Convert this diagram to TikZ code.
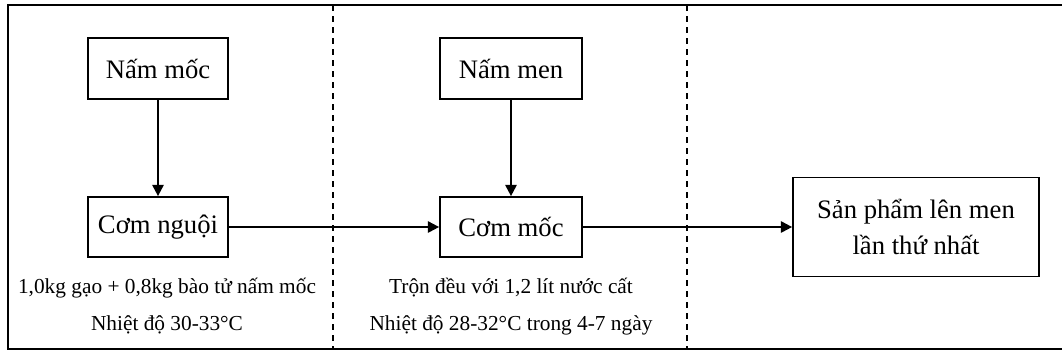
\documentclass[tikz,border=0pt]{standalone}
\usepackage{fontspec}
\setmainfont{Liberation Serif}
\usetikzlibrary{arrows.meta}
\begin{document}
\begin{tikzpicture}[x=0.75pt,y=-0.75pt,
  boxnode/.style={draw=black,line width=1.3pt,inner sep=0pt,font=\fontsize{20}{27}\selectfont,align=center},
  infotext/.style={inner sep=0pt,font=\fontsize{16}{20}\selectfont,anchor=center},
  flow/.style={line width=1.5pt,-{Triangle[width=8.5pt,length=8.5pt]}},
  sep/.style={line width=1.1pt,dash pattern=on 4.5pt off 3.75pt}]
\useasboundingbox (0,0) rectangle (1062,355);
\draw[line width=1.5pt] (1070,5) -- (8,5) -- (8,349) -- (1070,349);
\draw[sep] (333,5) -- (333,349);
\draw[sep] (687,5) -- (687,349);
\node[boxnode,minimum width=105pt,minimum height=45.75pt] (n1) at (158,68.5) {Nấm mốc};
\node[boxnode,minimum width=105pt,minimum height=45pt] (c1) at (158,227) {Cơm nguội};
\node[boxnode,minimum width=106.5pt,minimum height=45.75pt] (n2) at (511,68.5) {Nấm men};
\node[boxnode,minimum width=106.5pt,minimum height=45pt] (c2) at (511,227) {Cơm mốc};
\node[boxnode,minimum width=184.5pt,minimum height=74.25pt] (sp) at (916,227) {Sản phẩm lên men\\lần thứ nhất};
\node[infotext] (t1a) at (167,288) {1,0kg gạo + 0,8kg bào tử nấm mốc};
\node[infotext] (t1b) at (167,325) {Nhiệt độ 30-33°C};
\node[infotext] (t2a) at (511,288) {Trộn đều với 1,2 lít nước cất};
\node[infotext] (t2b) at (511,325) {Nhiệt độ 28-32°C trong 4-7 ngày};
\draw[flow] (n1) -- (c1);
\draw[flow] (n2) -- (c2);
\draw[flow] (c1) -- (c2);
\draw[flow] (c2) -- (sp);
\end{tikzpicture}
\end{document}
